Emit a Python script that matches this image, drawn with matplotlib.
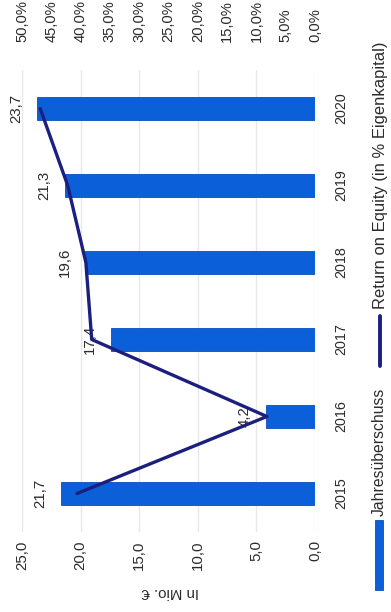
import matplotlib
matplotlib.use("Agg")
import matplotlib.pyplot as plt
from matplotlib.patches import Rectangle
from matplotlib.lines import Line2D

plt.rcParams['font.family'] = ['Liberation Sans', 'DejaVu Sans']

years = ["2015", "2016", "2017", "2018", "2019", "2020"]
jahresueberschuss = [21.7, 4.2, 17.4, 19.6, 21.3, 23.7]      # in Mio. €
roe_percent = [40.6, 8.2, 38.1, 39.1, 42.2, 46.9]            # Return on Equity in %
left_ticks = [0, 5, 10, 15, 20, 25]
right_ticks = [0, 5, 10, 15, 20, 25, 30, 35, 40, 45, 50]

BAR_BLUE = "#0b5fd8"
LINE_NAVY = "#1c1f7e"
TEXT = "#2b2b2b"

W, H = 391, 612
fig = plt.figure(figsize=(W / 100, H / 100), dpi=100)

def px(x0, y0, x1, y1):
    # pixel box (top-left origin) -> figure fraction rect
    return [x0 / W, 1 - y1 / H, (x1 - x0) / W, (y1 - y0) / H]

ax = fig.add_axes(px(22, 70, 315, 532))
ypos = list(range(len(years)))

ax.barh(ypos, jahresueberschuss, height=0.30, color=BAR_BLUE,
        edgecolor="#0a4fb8", linewidth=0.6, zorder=2)
ax.set_xlim(25, 0)
ax.set_ylim(-0.5, len(years) - 0.5)

ax.set_xticks(left_ticks)
ax.set_xticklabels([f"{v:.1f}".replace(".", ",") for v in left_ticks],
                   rotation=90, fontsize=10.8, color=TEXT)
ax.tick_params(axis="x", length=0, pad=6)
ax.grid(axis="x", color="#e8e8e8", linewidth=1.0, zorder=0)
ax.set_axisbelow(True)

ax.yaxis.tick_right()
ax.set_yticks(ypos)
ax.set_yticklabels(years, rotation=90, fontsize=10.3, color=TEXT, va="center")
ax.tick_params(axis="y", length=0, pad=14)

for s in ax.spines.values():
    s.set_visible(False)

# value labels beyond each bar end
for y, v in zip(ypos, jahresueberschuss):
    ax.annotate(f"{v:.1f}".replace(".", ","), xy=(v, y), xytext=(-15, 0),
                textcoords="offset points", rotation=90, ha="center",
                va="center", fontsize=10.8, color=TEXT, zorder=5)

# secondary value axis for the return on equity line
ax2 = ax.twiny()
ax2.plot(roe_percent, ypos, color=LINE_NAVY, linewidth=2.4, zorder=4,
         solid_capstyle="round")
ax2.set_xlim(50, 0)
ax2.set_xticks(right_ticks)
ax2.set_xticklabels([f"{v:.1f}%".replace(".", ",") for v in right_ticks],
                    rotation=90, fontsize=10.6, color=TEXT)
ax2.tick_params(axis="x", length=0, pad=20)
for s in ax2.spines.values():
    s.set_visible(False)

fig.text(170 / W, 1 - 592 / H, "In Mio. €", rotation=180, ha="center",
         va="center", fontsize=10.8, color=TEXT)

# legend, laid out along the right edge
fig.add_artist(Rectangle((375 / W, 1 - 590 / H), 8 / W, 70 / H,
                         transform=fig.transFigure, facecolor=BAR_BLUE,
                         edgecolor="#0a4fb8", linewidth=0.6))
fig.text(379 / W, 1 - 516 / H, "Jahresüberschuss", rotation=90,
         ha="center", va="bottom", fontsize=11.3, color=TEXT)
fig.add_artist(Line2D([380 / W, 380 / W], [1 - 366 / H, 1 - 316 / H],
                      transform=fig.transFigure, color=LINE_NAVY,
                      linewidth=2.8, solid_capstyle="round"))
fig.text(380 / W, 1 - 309 / H, "Return on Equity (in % Eigenkapital)",
         rotation=90, ha="center", va="bottom", fontsize=11.9, color=TEXT)

fig.savefig("out.png", dpi=100, facecolor="white")
